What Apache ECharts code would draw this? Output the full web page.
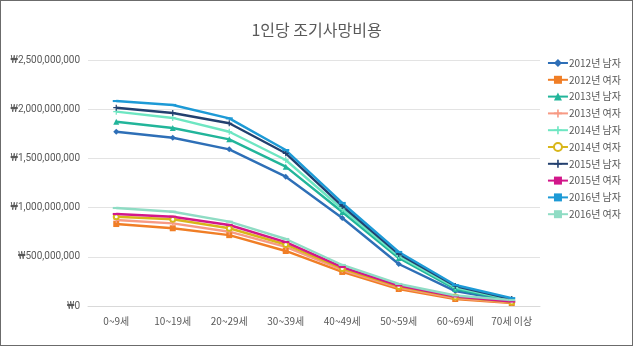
<!DOCTYPE html>
<html>
<head>
<meta charset="utf-8">
<script src="https://cdn.jsdelivr.net/npm/echarts@6/dist/echarts.min.js"></script>
<style>
  html, body { margin: 0; padding: 0; background: #fff; }
  #chart { width: 631px; height: 344px; border: 1px solid #6b6b6b; }
</style>
</head>
<body>
<div id="chart"></div>
<script>
const categories = ['0~9세', '10~19세', '20~29세', '30~39세', '40~49세', '50~59세', '60~69세', '70세 이상'];
const yTicks = [0, 500000000, 1000000000, 1500000000, 2000000000, 2500000000];

// 값 (원)
const male2012 = [1771000000, 1710000000, 1592000000, 1314000000, 894000000, 427000000, 152000000, 50000000];
const female2012 = [833000000, 790000000, 720000000, 559000000, 346000000, 173000000, 71000000, 30000000];
const male2013 = [1873000000, 1809000000, 1694000000, 1416000000, 955000000, 488000000, 173000000, 60000000];
const female2013 = [874000000, 840000000, 755000000, 600000000, 366000000, 188000000, 81000000, 35000000];
const male2014 = [1975000000, 1911000000, 1771000000, 1484000000, 986000000, 508000000, 188000000, 65000000];
const female2014 = [907000000, 881000000, 790000000, 625000000, 381000000, 198000000, 91000000, 40000000];
const male2015 = [2015000000, 1961000000, 1857000000, 1552000000, 1016000000, 528000000, 203000000, 70000000];
const female2015 = [935000000, 907000000, 823000000, 650000000, 396000000, 208000000, 97000000, 45000000];
const male2016 = [2083000000, 2043000000, 1907000000, 1585000000, 1047000000, 549000000, 213000000, 80000000];
const female2016 = [996000000, 958000000, 857000000, 681000000, 417000000, 224000000, 107000000, 60000000];

const cross = 'path://M4,0H6V4H10V6H6V10H4V6H0V4H4Z';
const dash = 'path://M0,0H10V3H0Z';

const seriesDefs = [
  { name: '2012년 남자', data: male2012, color: '#2e6fb7', symbol: 'diamond', size: 6 },
  { name: '2012년 여자', data: female2012, color: '#f07e26', symbol: 'rect', size: 6 },
  { name: '2013년 남자', data: male2013, color: '#22b59a', symbol: 'triangle', size: 6 },
  { name: '2013년 여자', data: female2013, color: '#f79a84', symbol: cross, size: 6 },
  { name: '2014년 남자', data: male2014, color: '#6ee6c2', symbol: cross, size: 6 },
  { name: '2014년 여자', data: female2014, color: '#d8b61a', symbol: 'emptyCircle', size: 5 },
  { name: '2015년 남자', data: male2015, color: '#23406f', symbol: cross, size: 6 },
  { name: '2015년 여자', data: female2015, color: '#d2178a', symbol: dash, size: 7 },
  { name: '2016년 남자', data: male2016, color: '#1d9ad6', symbol: dash, size: 7 },
  { name: '2016년 여자', data: female2016, color: '#8fdcc4', symbol: dash, size: 7 }
];

const chart = echarts.init(document.getElementById('chart'), null, { renderer: 'canvas' });

const fmt = v => '₩' + v.toLocaleString('en-US');

chart.setOption({
  animation: false,
  color: seriesDefs.map(s => s.color),
  title: {
    text: '1인당 조기사망비용',
    left: 'center',
    top: 16,
    textStyle: { fontFamily: 'Noto Sans CJK KR', fontSize: 16, fontWeight: 'normal', color: '#595959' }
  },
  grid: { left: 87, right: 92, top: 59, bottom: 39, containLabel: false },
  legend: {
    orient: 'vertical',
    right: 6,
    top: 52,
    itemGap: 6.8,
    itemWidth: 20,
    itemHeight: 10,
    textStyle: { fontFamily: 'Noto Sans CJK KR', fontSize: 10, color: '#595959', padding: [0, 0, 0, -4] },
    data: seriesDefs.map(s => s.name)
  },
  xAxis: {
    type: 'category',
    data: categories,
    boundaryGap: true,
    axisLine: { lineStyle: { color: '#d9d9d9' } },
    axisTick: { show: false },
    axisLabel: { fontFamily: 'Noto Sans CJK KR', fontSize: 10, color: '#595959', margin: 10 }
  },
  yAxis: {
    type: 'value',
    min: yTicks[0],
    max: yTicks[yTicks.length - 1],
    interval: yTicks[1] - yTicks[0],
    axisLine: { show: false },
    axisTick: { show: false },
    splitLine: { lineStyle: { color: '#e3e3e3' } },
    axisLabel: { fontFamily: 'Roboto', fontSize: 10, color: '#595959', margin: 8, formatter: fmt }
  },
  series: seriesDefs.map(s => ({
    name: s.name,
    type: 'line',
    data: s.data,
    symbol: s.symbol,
    symbolSize: s.size,
    symbolKeepAspect: true,
    lineStyle: { width: 2.4, color: s.color },
    itemStyle: { color: s.color }
  }))
});
</script>
</body>
</html>
